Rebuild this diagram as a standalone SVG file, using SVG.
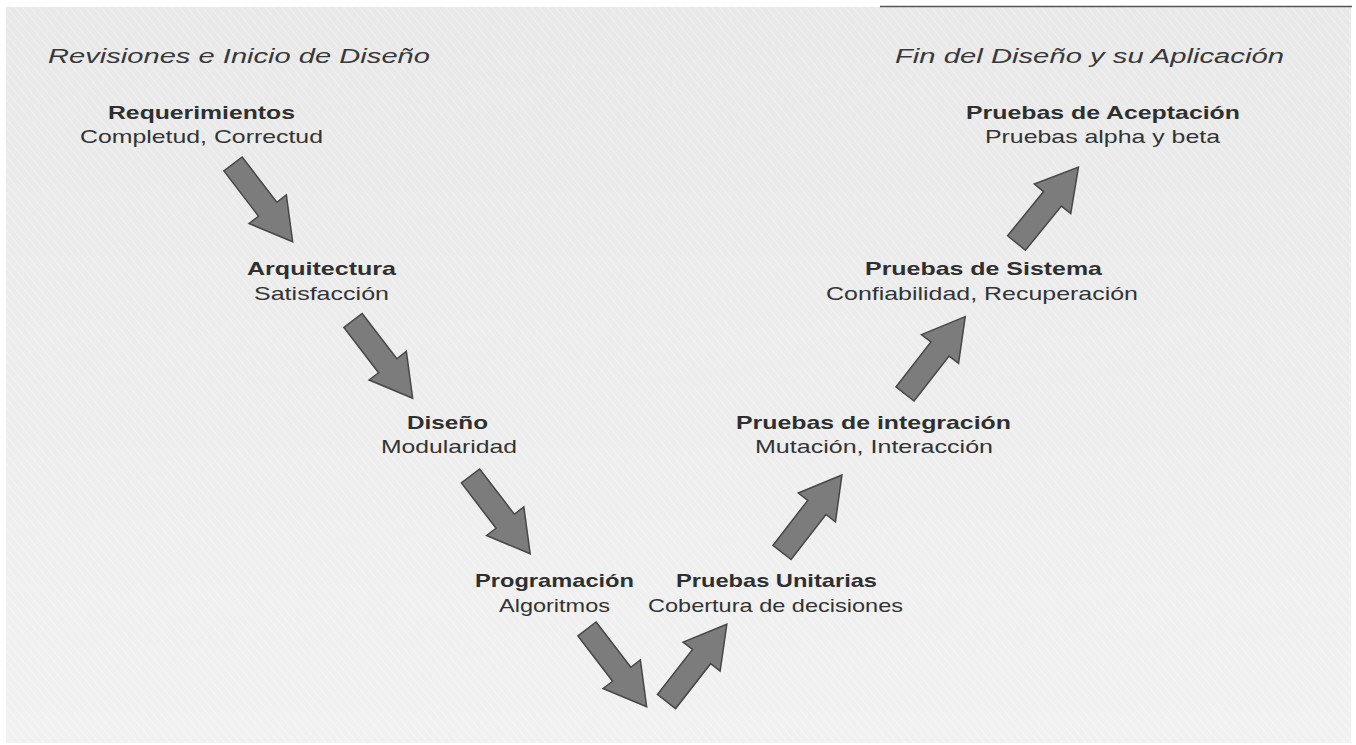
<svg xmlns="http://www.w3.org/2000/svg" width="1356" height="745" viewBox="0 0 1356 745">
<style>
.hdr{font-family:"Liberation Sans",Arial,sans-serif;font-style:italic;font-size:20.5px;fill:#383838}
.t{font-family:"Liberation Sans",Arial,sans-serif;font-weight:bold;font-size:19px;fill:#2f2f2f}
.s{font-family:"Liberation Sans",Arial,sans-serif;font-size:19px;fill:#333}
.arr{fill:#7c7c7c;stroke:#464646;stroke-width:1.5;stroke-linejoin:miter}
</style>
<defs>
<linearGradient id="bg" x1="0" y1="0" x2="0" y2="1">
<stop offset="0" stop-color="#e8e8e8"/>
<stop offset="1" stop-color="#f1f1f1"/>
</linearGradient>
<pattern id="tex" width="6" height="6" patternUnits="userSpaceOnUse" patternTransform="rotate(-40)">
<rect width="6" height="6" fill="none"/>
<line x1="0" y1="0" x2="0" y2="6" stroke="#ffffff" stroke-opacity="0.35" stroke-width="2"/>
</pattern>
<path id="arrow" d="M0,-11.5 L57,-11.5 L57,-23.5 L98,0 L57,23.5 L57,11.5 L0,11.5 Z"/>
</defs>
<rect width="1356" height="745" fill="#ffffff"/>
<rect x="6" y="7" width="1345" height="736" fill="url(#bg)"/>
<rect x="6" y="7" width="1345" height="736" fill="url(#tex)"/>
<line x1="880" y1="6.5" x2="1352" y2="6.5" stroke="#555" stroke-width="1.5"/>

<text class="hdr" x="48" y="63" textLength="382" lengthAdjust="spacingAndGlyphs">Revisiones e Inicio de Diseño</text>
<text class="hdr" x="895" y="63" textLength="389" lengthAdjust="spacingAndGlyphs">Fin del Diseño y su Aplicación</text>

<g id="requerimientos">
<text class="t" x="108" y="119" textLength="187" lengthAdjust="spacingAndGlyphs">Requerimientos</text>
<text class="s" x="80" y="143" textLength="243" lengthAdjust="spacingAndGlyphs">Completud, Correctud</text>
</g>
<g id="arquitectura">
<text class="t" x="247" y="275" textLength="149" lengthAdjust="spacingAndGlyphs">Arquitectura</text>
<text class="s" x="254" y="300" textLength="135" lengthAdjust="spacingAndGlyphs">Satisfacción</text>
</g>
<g id="diseno">
<text class="t" x="407" y="429" textLength="81" lengthAdjust="spacingAndGlyphs">Diseño</text>
<text class="s" x="381" y="453" textLength="136" lengthAdjust="spacingAndGlyphs">Modularidad</text>
</g>
<g id="programacion">
<text class="t" x="475" y="587" textLength="159" lengthAdjust="spacingAndGlyphs">Programación</text>
<text class="s" x="499" y="612" textLength="111" lengthAdjust="spacingAndGlyphs">Algoritmos</text>
</g>
<g id="pruebas-unitarias">
<text class="t" x="676" y="587" textLength="201" lengthAdjust="spacingAndGlyphs">Pruebas Unitarias</text>
<text class="s" x="648" y="612" textLength="255" lengthAdjust="spacingAndGlyphs">Cobertura de decisiones</text>
</g>
<g id="pruebas-integracion">
<text class="t" x="736" y="429" textLength="275" lengthAdjust="spacingAndGlyphs">Pruebas de integración</text>
<text class="s" x="755" y="453" textLength="238" lengthAdjust="spacingAndGlyphs">Mutación, Interacción</text>
</g>
<g id="pruebas-sistema">
<text class="t" x="865" y="275" textLength="237" lengthAdjust="spacingAndGlyphs">Pruebas de Sistema</text>
<text class="s" x="826" y="300" textLength="312" lengthAdjust="spacingAndGlyphs">Confiabilidad, Recuperación</text>
</g>
<g id="pruebas-aceptacion">
<text class="t" x="966" y="119" textLength="274" lengthAdjust="spacingAndGlyphs">Pruebas de Aceptación</text>
<text class="s" x="985" y="143" textLength="235" lengthAdjust="spacingAndGlyphs">Pruebas alpha y beta</text>
</g>

<g id="connectors" class="arr">
<use href="#arrow" transform="translate(233,164) rotate(52.5)"/>
<use href="#arrow" transform="translate(353,320.5) rotate(52.5)"/>
<use href="#arrow" transform="translate(470.5,476) rotate(52.5)"/>
<use href="#arrow" transform="translate(587,629) rotate(52.5)"/>
<use href="#arrow" transform="translate(666.5,701.5) rotate(-52)"/>
<use href="#arrow" transform="translate(782,552.5) rotate(-52.3)"/>
<use href="#arrow" transform="translate(905,394) rotate(-52.1)"/>
<use href="#arrow" transform="translate(1016.5,243) rotate(-50.8)"/>
</g>
</svg>
